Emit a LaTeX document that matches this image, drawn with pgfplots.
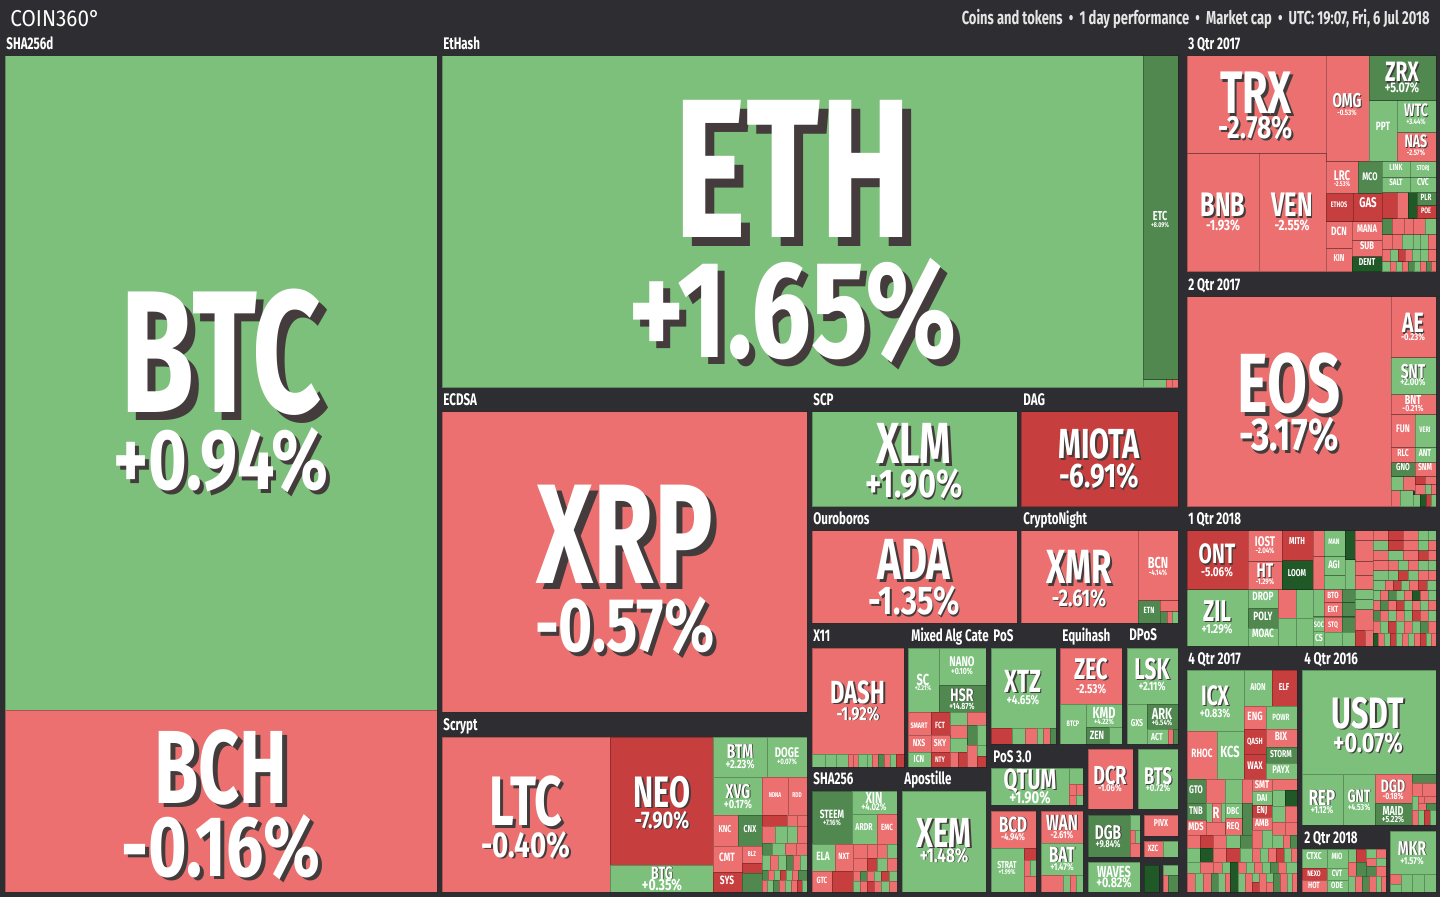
\documentclass[border=0pt]{standalone}
\usepackage{fontspec}
\usepackage{pgfplots}
\pgfplotsset{compat=1.18}
\newfontfamily\cf[FakeStretch=0.69]{Fira Sans}
\newfontfamily\pf[FakeStretch=0.77]{Fira Sans}
\newfontfamily\hf[FakeStretch=0.9]{Fira Sans}
\definecolor{bg}{RGB}{46,46,50}
\definecolor{cG}{RGB}{124,192,124}
\definecolor{cR}{RGB}{236,112,112}
\definecolor{cDR}{RGB}{198,62,62}
\definecolor{cDG}{RGB}{80,136,80}
\definecolor{cVG}{RGB}{32,88,40}
\definecolor{shd}{RGB}{68,60,60}
\newcommand{\R}[5]{\addplot[mark=none,fill=c#5,draw=black,draw opacity=0.25,line width=0.5pt] coordinates {(#1,#2)(#3,#2)(#3,#4)(#1,#4)(#1,#2)};}
% name label (shadow only when large)
\newcommand{\T}[4]{%
\ifdim #3pt<9pt\relax\else
\node[anchor=base,inner sep=0pt,text=shd,xshift={#3*0.045pt},yshift={-#3*0.045pt},font=\cf\bfseries\fontsize{#3}{#3}\selectfont] at (axis cs:#1,#2) {#4};
\fi
\node[anchor=base,inner sep=0pt,text=white,font=\cf\bfseries\fontsize{#3}{#3}\selectfont] at (axis cs:#1,#2) {#4};}
% percentage label
\newcommand{\PC}[4]{%
\ifdim #3pt<9pt\relax\else
\node[anchor=base,inner sep=0pt,text=shd,xshift={#3*0.045pt},yshift={-#3*0.045pt},font=\pf\bfseries\fontsize{#3}{#3}\selectfont] at (axis cs:#1,#2) {#4};
\fi
\node[anchor=base,inner sep=0pt,text=white,font=\pf\bfseries\fontsize{#3}{#3}\selectfont] at (axis cs:#1,#2) {#4};}
\newcommand{\GL}[3]{\node[anchor=base west,inner sep=0pt,text=white,font=\cf\bfseries\fontsize{8.4}{8.4}\selectfont] at (axis cs:#1,#2) {#3};}
\begin{document}
\begin{tikzpicture}
\begin{axis}[width=720pt,height=448.5pt,scale only axis,xmin=0,xmax=1440,ymin=0,ymax=897,y dir=reverse,hide axis,clip=false]
\addplot[mark=none,fill=bg,draw=none] coordinates {(0,0)(1440,0)(1440,897)(0,897)(0,0)};
% SHA256d
\R{5}{56}{437}{710}{G}
\R{5}{710}{437}{892}{R}
% EtHash
\R{442}{56}{1143}{388}{G}
\R{1143}{56}{1178}{380}{DG}
\R{1143}{380}{1166}{388}{G}\R{1166}{380}{1172}{388}{R}\R{1172}{380}{1178}{388}{R}
% ECDSA
\R{442}{412}{807}{712}{R}
% Scrypt
\R{442}{737}{610}{892}{R}
\R{610}{737}{713}{865}{DR}
\R{610}{865}{713}{892}{G}
\R{713}{737}{767}{777}{G}\R{767}{737}{807}{777}{G}
\R{713}{777}{762}{815}{G}\R{762}{777}{788}{815}{R}\R{788}{777}{807}{815}{R}
\R{713}{815}{738}{846}{R}\R{738}{815}{762}{846}{DG}
\R{713}{846}{742}{872}{R}\R{742}{846}{762}{863}{R}\R{742}{863}{762}{873}{DR}
\R{713}{872}{742}{892}{DR}\R{742}{873}{762}{892}{DG}
\R{762}{815}{787}{826}{DR}\R{787}{815}{797}{826}{R}\R{797}{815}{807}{826}{R}
\R{762}{826}{775}{843}{R}\R{775}{826}{787}{843}{G}\R{787}{826}{797}{843}{G}\R{797}{826}{807}{843}{R}
\R{762}{843}{772}{855}{DG}\R{772}{843}{785}{855}{G}\R{785}{843}{796}{855}{R}\R{796}{843}{807}{855}{R}
\R{762}{855}{770}{870}{G}\R{770}{855}{778}{870}{R}\R{778}{855}{786}{870}{G}\R{786}{855}{793}{870}{DG}\R{793}{855}{800}{870}{R}\R{800}{855}{807}{870}{G}
\R{762}{870}{768}{880}{DG}\R{768}{870}{774}{880}{R}\R{774}{870}{780}{880}{G}\R{780}{870}{786}{880}{DR}\R{786}{870}{792}{880}{G}\R{792}{870}{798}{880}{R}\R{798}{870}{807}{880}{DG}
\R{762}{880}{767}{892}{R}\R{767}{880}{773}{892}{G}\R{773}{880}{779}{892}{DG}\R{779}{880}{785}{892}{R}\R{785}{880}{791}{892}{G}\R{791}{880}{797}{892}{R}\R{797}{880}{802}{892}{DR}\R{802}{880}{807}{892}{G}
% SCP, DAG, Ouroboros, CryptoNight
\R{812}{412}{1017}{507}{G}
\R{1021}{412}{1178}{507}{DR}
\R{812}{531}{1017}{623}{R}
\R{1021}{531}{1138}{623}{R}
\R{1138}{531}{1178}{601}{R}
\R{1138}{601}{1160}{623}{DG}
\R{1160}{601}{1178}{612}{R}\R{1160}{612}{1167}{623}{DG}\R{1167}{612}{1172}{623}{R}\R{1172}{612}{1178}{623}{G}
% X11
\R{812}{648}{904}{754}{R}
\R{812}{754}{825}{767}{G}\R{825}{754}{836}{767}{G}\R{836}{754}{848}{767}{G}\R{848}{754}{853}{767}{R}\R{853}{754}{858}{767}{R}\R{858}{754}{867}{767}{G}\R{867}{754}{872}{767}{G}\R{872}{754}{878}{767}{R}\R{878}{754}{884}{767}{DG}\R{884}{754}{890}{767}{R}\R{890}{754}{896}{767}{G}\R{896}{754}{904}{767}{DR}
% Mixed Alg
\R{908}{648}{939}{712}{G}
\R{939}{648}{986}{685}{G}
\R{939}{685}{986}{712}{DG}
\R{908}{712}{931}{735}{R}\R{931}{712}{950}{735}{DR}\R{950}{712}{967}{725}{G}\R{967}{712}{986}{725}{R}
\R{950}{725}{967}{738}{R}\R{967}{725}{977}{745}{DG}\R{977}{725}{986}{745}{G}
\R{908}{735}{931}{752}{R}\R{931}{735}{950}{752}{R}\R{950}{738}{967}{752}{G}
\R{908}{752}{931}{767}{G}\R{931}{752}{950}{767}{DR}\R{950}{752}{958}{767}{R}\R{958}{752}{967}{767}{DR}
\R{967}{745}{977}{767}{R}\R{977}{745}{986}{756}{G}\R{977}{756}{986}{767}{DR}
% PoS
\R{991}{648}{1056}{728}{G}
\R{991}{728}{1012}{744}{DR}\R{1012}{728}{1025}{744}{G}\R{1025}{728}{1037}{744}{R}\R{1037}{728}{1043}{744}{G}\R{1043}{728}{1050}{744}{R}\R{1050}{728}{1056}{744}{DG}
% Equihash
\R{1060}{648}{1122}{704}{R}
\R{1060}{704}{1086}{744}{G}
\R{1086}{704}{1122}{727}{G}
\R{1086}{727}{1109}{744}{DG}\R{1109}{727}{1122}{744}{G}
% DPoS
\R{1127}{648}{1178}{704}{G}
\R{1127}{704}{1147}{744}{G}
\R{1147}{704}{1178}{729}{DG}
\R{1147}{729}{1168}{744}{G}\R{1168}{729}{1173}{744}{R}\R{1173}{729}{1178}{744}{DG}
% PoS 3.0
\R{991}{768}{1069}{805}{G}
\R{1069}{768}{1083}{784}{G}\R{1069}{784}{1076}{795}{R}\R{1076}{784}{1083}{795}{R}\R{1069}{795}{1076}{805}{R}\R{1076}{795}{1083}{805}{G}
\R{1088}{749}{1133}{809}{R}
\R{1138}{749}{1178}{809}{G}
\R{991}{811}{1036}{848}{R}
\R{991}{848}{1024}{892}{G}
\R{1024}{848}{1036}{860}{DR}\R{1024}{860}{1030}{876}{R}\R{1030}{860}{1036}{876}{G}\R{1024}{876}{1036}{892}{R}
\R{1041}{811}{1083}{843}{R}
\R{1041}{843}{1083}{875}{G}
\R{1041}{875}{1063}{892}{R}\R{1063}{875}{1070}{892}{G}\R{1070}{875}{1076}{892}{R}\R{1076}{875}{1083}{892}{G}
\R{1088}{815}{1130}{857}{DG}
\R{1130}{815}{1140}{830}{G}\R{1130}{830}{1135}{843}{R}\R{1135}{830}{1140}{843}{G}\R{1130}{843}{1140}{857}{R}
\R{1088}{862}{1140}{892}{G}
\R{1144}{815}{1178}{836}{R}
\R{1144}{841}{1163}{857}{R}\R{1163}{841}{1178}{857}{G}
\R{1144}{865}{1159}{892}{VG}\R{1163}{865}{1178}{875}{G}\R{1163}{875}{1168}{892}{R}\R{1168}{875}{1178}{892}{DG}
% SHA256
\R{812}{791}{852}{844}{DG}
\R{852}{791}{897}{814}{G}
\R{852}{814}{877}{844}{G}\R{877}{814}{897}{844}{R}
\R{812}{844}{835}{871}{G}\R{835}{844}{853}{871}{R}
\R{812}{871}{832}{892}{R}\R{832}{871}{853}{892}{DR}
\R{853}{844}{867}{858}{R}\R{867}{844}{877}{858}{R}\R{877}{844}{887}{858}{R}\R{887}{844}{897}{858}{G}
\R{853}{858}{867}{871}{R}\R{867}{858}{877}{871}{DR}\R{877}{858}{887}{871}{G}\R{887}{858}{897}{871}{R}
\R{853}{871}{860}{881}{R}\R{860}{871}{867}{881}{DG}\R{867}{871}{874}{881}{R}\R{874}{871}{881}{881}{G}\R{881}{871}{889}{881}{DR}\R{889}{871}{897}{881}{G}
\R{853}{881}{860}{892}{G}\R{860}{881}{867}{892}{R}\R{867}{881}{874}{892}{DR}\R{874}{881}{881}{892}{R}\R{881}{881}{889}{892}{G}\R{889}{881}{897}{892}{R}
% Apostille
\R{902}{791}{986}{892}{G}
% 3 Qtr 2017
\R{1187}{56}{1326}{154}{R}
\R{1326}{56}{1369}{162}{R}
\R{1369}{56}{1436}{101}{DG}
\R{1369}{101}{1397}{162}{G}
\R{1397}{101}{1436}{133}{G}
\R{1397}{133}{1436}{162}{R}
\R{1187}{154}{1259}{272}{R}
\R{1259}{154}{1326}{272}{R}
\R{1326}{162}{1358}{194}{R}\R{1358}{162}{1382}{194}{DG}
\R{1382}{162}{1410}{178}{G}\R{1410}{162}{1436}{178}{G}\R{1382}{178}{1410}{193}{G}\R{1410}{178}{1436}{193}{G}
\R{1326}{194}{1353}{222}{DR}\R{1353}{194}{1382}{222}{DR}
\R{1326}{222}{1352}{249}{R}\R{1326}{249}{1352}{272}{R}
\R{1352}{222}{1382}{241}{R}\R{1352}{241}{1382}{257}{R}\R{1352}{257}{1382}{272}{VG}
\R{1382}{193}{1397}{219}{DR}\R{1397}{193}{1408}{219}{R}\R{1408}{193}{1417}{219}{VG}\R{1417}{193}{1436}{206}{DG}\R{1417}{206}{1436}{219}{DR}
\R{1382}{219}{1392}{235}{DG}\R{1392}{219}{1404}{235}{R}\R{1404}{219}{1413}{235}{R}\R{1413}{219}{1425}{235}{R}\R{1425}{219}{1436}{235}{G}
\R{1382}{235}{1392}{250}{R}\R{1392}{235}{1402}{250}{R}\R{1402}{235}{1413}{250}{G}\R{1413}{235}{1420}{250}{G}\R{1420}{235}{1428}{250}{G}\R{1428}{235}{1436}{250}{R}
\R{1382}{250}{1390}{262}{R}\R{1390}{250}{1398}{262}{G}\R{1398}{250}{1405}{262}{DR}\R{1405}{250}{1412}{262}{R}\R{1412}{250}{1420}{262}{G}\R{1420}{250}{1428}{262}{G}\R{1428}{250}{1436}{262}{R}
\R{1382}{262}{1390}{272}{G}\R{1390}{262}{1396}{272}{R}\R{1396}{262}{1402}{272}{G}\R{1402}{262}{1408}{272}{R}\R{1408}{262}{1414}{272}{DG}\R{1414}{262}{1420}{272}{G}\R{1420}{262}{1426}{272}{R}\R{1426}{262}{1431}{272}{DG}\R{1431}{262}{1436}{272}{R}
% 2 Qtr 2017
\R{1187}{297}{1391}{507}{R}
\R{1391}{297}{1436}{358}{R}
\R{1391}{358}{1436}{395}{G}
\R{1391}{395}{1436}{415}{R}
\R{1391}{415}{1415}{448}{R}\R{1415}{415}{1436}{448}{G}
\R{1391}{448}{1415}{463}{R}\R{1415}{448}{1436}{463}{G}
\R{1391}{463}{1415}{477}{DG}\R{1415}{463}{1436}{477}{R}
\R{1391}{477}{1403}{491}{G}\R{1403}{477}{1415}{491}{R}\R{1415}{477}{1425}{485}{DR}\R{1425}{477}{1436}{485}{R}\R{1415}{485}{1425}{495}{R}\R{1425}{485}{1431}{495}{G}\R{1431}{485}{1436}{495}{R}
\R{1391}{491}{1400}{507}{R}\R{1400}{491}{1413}{507}{G}\R{1413}{495}{1420}{507}{G}\R{1420}{495}{1426}{507}{VG}\R{1426}{495}{1431}{507}{DR}\R{1431}{495}{1436}{507}{G}
% 1 Qtr 2018
\R{1187}{531}{1248}{590}{DR}
\R{1187}{590}{1248}{646}{G}
\R{1248}{531}{1282}{562}{R}\R{1248}{562}{1282}{590}{R}
\R{1282}{531}{1313}{561}{DR}\R{1282}{561}{1313}{590}{VG}
\R{1248}{590}{1278}{609}{G}\R{1248}{609}{1278}{628}{DG}\R{1248}{628}{1278}{646}{G}
\R{1278}{590}{1296}{618}{R}\R{1296}{590}{1313}{618}{G}\R{1278}{618}{1296}{646}{G}\R{1296}{618}{1313}{646}{G}
\R{1313}{531}{1324}{557}{R}\R{1324}{531}{1345}{557}{G}\R{1345}{531}{1355}{560}{VG}\R{1355}{531}{1373}{541}{R}\R{1355}{541}{1373}{562}{R}
\R{1313}{557}{1324}{590}{R}\R{1324}{557}{1345}{576}{G}\R{1324}{576}{1345}{590}{G}\R{1345}{560}{1355}{590}{G}\R{1355}{562}{1373}{576}{R}\R{1355}{576}{1373}{590}{R}
\R{1313}{590}{1324}{617}{G}\R{1324}{590}{1342}{603}{R}\R{1324}{603}{1342}{617}{R}\R{1342}{590}{1355}{603}{DG}\R{1342}{603}{1355}{617}{DG}\R{1355}{590}{1373}{600}{G}\R{1355}{600}{1373}{610}{G}
\R{1313}{617}{1324}{631}{G}\R{1313}{631}{1324}{646}{G}\R{1324}{617}{1342}{632}{R}\R{1324}{632}{1342}{646}{G}\R{1342}{617}{1355}{632}{DG}\R{1342}{632}{1355}{646}{G}\R{1355}{610}{1373}{630}{R}\R{1355}{630}{1365}{646}{DR}\R{1365}{630}{1373}{646}{R}
\R{1373}{531}{1388}{541}{R}\R{1388}{531}{1403}{541}{DR}\R{1403}{531}{1418}{541}{R}\R{1418}{531}{1428}{541}{G}\R{1428}{531}{1436}{541}{G}
\R{1373}{541}{1388}{551}{G}\R{1388}{541}{1403}{551}{DR}\R{1403}{541}{1418}{551}{R}\R{1418}{541}{1428}{551}{G}\R{1428}{541}{1436}{551}{R}
\R{1373}{551}{1388}{561}{R}\R{1388}{551}{1403}{561}{G}\R{1403}{551}{1418}{561}{R}\R{1418}{551}{1428}{561}{DR}\R{1428}{551}{1436}{561}{R}
\R{1373}{561}{1388}{571}{R}\R{1388}{561}{1398}{571}{R}\R{1398}{561}{1408}{571}{G}\R{1408}{561}{1418}{571}{R}\R{1418}{561}{1428}{571}{G}\R{1428}{561}{1436}{571}{G}
\R{1373}{571}{1388}{581}{G}\R{1388}{571}{1398}{581}{G}\R{1398}{571}{1408}{581}{DR}\R{1408}{571}{1418}{581}{G}\R{1418}{571}{1428}{581}{R}\R{1428}{571}{1436}{581}{R}
\R{1373}{581}{1385}{591}{G}\R{1385}{581}{1393}{591}{R}\R{1393}{581}{1401}{591}{DR}\R{1401}{581}{1409}{591}{G}\R{1409}{581}{1418}{591}{R}\R{1418}{581}{1427}{591}{DR}\R{1427}{581}{1436}{591}{G}
\R{1373}{591}{1380}{601}{G}\R{1380}{591}{1388}{601}{R}\R{1388}{591}{1396}{601}{DG}\R{1396}{591}{1404}{601}{G}\R{1404}{591}{1412}{601}{R}\R{1412}{591}{1420}{601}{VG}\R{1420}{591}{1428}{601}{R}\R{1428}{591}{1436}{601}{G}
\R{1373}{601}{1380}{611}{R}\R{1380}{601}{1388}{611}{DG}\R{1388}{601}{1396}{611}{R}\R{1396}{601}{1404}{611}{DR}\R{1404}{601}{1412}{611}{G}\R{1412}{601}{1420}{611}{R}\R{1420}{601}{1428}{611}{G}\R{1428}{601}{1436}{611}{R}
\R{1373}{611}{1380}{621}{DG}\R{1380}{611}{1388}{621}{R}\R{1388}{611}{1396}{621}{G}\R{1396}{611}{1404}{621}{R}\R{1404}{611}{1412}{621}{G}\R{1412}{611}{1420}{621}{DR}\R{1420}{611}{1428}{621}{R}\R{1428}{611}{1436}{621}{G}
\R{1373}{621}{1380}{633}{R}\R{1380}{621}{1388}{633}{G}\R{1388}{621}{1396}{633}{DR}\R{1396}{621}{1404}{633}{G}\R{1404}{621}{1412}{633}{R}\R{1412}{621}{1420}{633}{G}\R{1420}{621}{1428}{633}{DG}\R{1428}{621}{1436}{633}{R}
\R{1373}{633}{1378}{646}{VG}\R{1378}{633}{1384}{646}{R}\R{1384}{633}{1390}{646}{G}\R{1390}{633}{1396}{646}{DR}\R{1396}{633}{1402}{646}{G}\R{1402}{633}{1408}{646}{R}\R{1408}{633}{1414}{646}{G}\R{1414}{633}{1420}{646}{R}\R{1420}{633}{1426}{646}{DR}\R{1426}{633}{1431}{646}{G}\R{1431}{633}{1436}{646}{R}
% 4 Qtr 2017
\R{1187}{670}{1244}{731}{G}
\R{1244}{670}{1272}{706}{G}\R{1272}{670}{1297}{706}{DR}
\R{1244}{706}{1266}{729}{R}\R{1266}{706}{1297}{729}{G}
\R{1187}{731}{1217}{779}{R}\R{1217}{731}{1244}{779}{G}
\R{1244}{729}{1266}{754}{DR}\R{1244}{754}{1266}{779}{DR}
\R{1266}{729}{1297}{747}{R}\R{1266}{747}{1297}{763}{DG}\R{1266}{763}{1297}{779}{G}
\R{1187}{779}{1206}{803}{DG}\R{1206}{779}{1225}{803}{R}\R{1225}{779}{1242}{803}{G}\R{1242}{779}{1252}{803}{R}
\R{1252}{779}{1272}{791}{R}\R{1272}{779}{1297}{790}{R}\R{1272}{790}{1285}{806}{G}\R{1285}{790}{1297}{806}{VG}
\R{1252}{791}{1272}{805}{G}\R{1252}{805}{1272}{817}{DR}\R{1252}{817}{1272}{830}{R}\R{1272}{806}{1285}{822}{G}\R{1285}{806}{1297}{822}{R}
\R{1242}{803}{1252}{835}{DG}
\R{1187}{803}{1206}{820}{DG}\R{1206}{803}{1212}{822}{G}\R{1212}{803}{1221}{825}{R}\R{1221}{803}{1225}{822}{G}\R{1225}{803}{1242}{818}{G}
\R{1187}{820}{1206}{835}{R}\R{1225}{818}{1242}{835}{R}\R{1206}{822}{1225}{835}{R}
\R{1187}{835}{1200}{848}{R}\R{1200}{835}{1213}{848}{DR}\R{1213}{835}{1226}{848}{R}\R{1226}{835}{1240}{848}{G}\R{1240}{835}{1252}{848}{DG}\R{1252}{830}{1262}{848}{R}\R{1262}{830}{1272}{848}{G}\R{1272}{822}{1285}{835}{R}\R{1285}{822}{1297}{835}{R}\R{1272}{835}{1283}{848}{G}\R{1283}{835}{1290}{848}{R}\R{1290}{835}{1297}{848}{DG}
\R{1187}{848}{1200}{862}{G}\R{1200}{848}{1213}{862}{VG}\R{1213}{848}{1226}{862}{R}\R{1226}{848}{1240}{862}{DR}\R{1240}{848}{1252}{862}{G}\R{1252}{848}{1260}{862}{R}\R{1260}{848}{1268}{862}{G}\R{1268}{848}{1276}{862}{R}\R{1276}{848}{1284}{862}{DR}\R{1284}{848}{1291}{862}{G}\R{1291}{848}{1297}{862}{R}
\R{1187}{862}{1200}{873}{G}\R{1200}{862}{1213}{873}{R}\R{1213}{862}{1222}{873}{R}\R{1222}{862}{1230}{873}{G}\R{1230}{862}{1238}{892}{VG}\R{1238}{862}{1246}{873}{R}\R{1246}{862}{1254}{873}{G}\R{1254}{862}{1262}{873}{R}\R{1262}{862}{1270}{873}{G}\R{1270}{862}{1278}{873}{DG}\R{1278}{862}{1286}{873}{R}\R{1286}{862}{1297}{873}{G}
\R{1187}{873}{1195}{892}{R}\R{1195}{873}{1203}{892}{G}\R{1203}{873}{1211}{892}{R}\R{1211}{873}{1218}{892}{DG}\R{1218}{873}{1225}{892}{G}\R{1225}{873}{1230}{892}{R}\R{1238}{873}{1245}{892}{G}\R{1245}{873}{1252}{892}{R}\R{1252}{873}{1259}{882}{G}\R{1252}{882}{1259}{892}{DR}\R{1259}{873}{1266}{892}{R}\R{1266}{873}{1273}{882}{G}\R{1266}{882}{1273}{892}{R}\R{1273}{873}{1280}{892}{DG}\R{1280}{873}{1287}{892}{R}\R{1287}{873}{1292}{892}{G}\R{1292}{873}{1297}{892}{R}
% 4 Qtr 2016
\R{1302}{670}{1436}{774}{G}
\R{1302}{774}{1343}{825}{G}\R{1343}{774}{1375}{825}{G}
\R{1375}{774}{1412}{803}{R}\R{1375}{803}{1412}{825}{DG}
\R{1412}{774}{1436}{783}{DG}\R{1412}{783}{1422}{796}{R}\R{1422}{783}{1436}{796}{R}
\R{1412}{796}{1418}{810}{G}\R{1418}{796}{1424}{803}{R}\R{1424}{796}{1436}{803}{R}\R{1418}{803}{1426}{810}{R}\R{1426}{803}{1436}{810}{DG}
\R{1412}{810}{1418}{825}{R}\R{1418}{810}{1424}{825}{G}\R{1424}{810}{1430}{825}{DR}\R{1430}{810}{1436}{825}{G}
% 2 Qtr 2018
\R{1302}{849}{1327}{868}{G}\R{1327}{849}{1348}{868}{G}
\R{1302}{868}{1327}{880}{DR}\R{1327}{868}{1348}{880}{G}
\R{1302}{880}{1327}{892}{R}\R{1327}{880}{1348}{892}{G}
\R{1348}{849}{1356}{862}{G}\R{1356}{849}{1366}{862}{DR}\R{1366}{849}{1376}{858}{G}\R{1376}{849}{1386}{858}{R}\R{1366}{858}{1376}{866}{R}\R{1376}{858}{1386}{866}{G}
\R{1348}{862}{1356}{876}{R}\R{1356}{862}{1366}{876}{DG}\R{1366}{866}{1376}{876}{DG}\R{1376}{866}{1386}{876}{R}
\R{1348}{876}{1355}{892}{G}\R{1355}{876}{1362}{892}{R}\R{1362}{876}{1369}{892}{DG}\R{1369}{876}{1376}{892}{R}\R{1376}{876}{1381}{892}{G}\R{1381}{876}{1386}{892}{R}
\R{1390}{831}{1436}{874}{G}
\R{1390}{874}{1401}{884}{R}\R{1390}{884}{1401}{892}{G}\R{1401}{874}{1412}{892}{G}\R{1412}{874}{1424}{892}{G}\R{1424}{874}{1436}{892}{G}
% ---------- header ----------
\node[anchor=base west,inner sep=0pt,text=white,font=\hf\fontsize{11.5}{11.5}\selectfont] at (axis cs:10,27) {COIN360°};
\node[anchor=base east,inner sep=0pt,text=white!90!black,font=\cf\bfseries\fontsize{9.4}{9.4}\selectfont] at (axis cs:1430,25) {Coins and tokens \,•\, 1 day performance \,•\, Market cap \,•\, UTC: 19:07, Fri, 6 Jul 2018};
% ---------- group labels ----------
\GL{6}{50}{SHA256d}\GL{443}{50}{EtHash}\GL{1188}{50}{3 Qtr 2017}
\GL{443}{406}{ECDSA}\GL{813}{406}{SCP}\GL{1023}{406}{DAG}\GL{1188}{291}{2 Qtr 2017}
\GL{443}{730}{Scrypt}\GL{813}{525}{Ouroboros}\GL{1023}{525}{CryptoNight}\GL{1188}{525}{1 Qtr 2018}
\GL{813}{641}{X11}\GL{911}{641}{Mixed Alg Cate}\GL{993}{641}{PoS}\GL{1062}{641}{Equihash}\GL{1129}{640}{DPoS}
\GL{1188}{664}{4 Qtr 2017}\GL{1304}{664}{4 Qtr 2016}\GL{993}{762}{PoS 3.0}\GL{813}{784}{SHA256}\GL{904}{784}{Apostille}\GL{1304}{843}{2 Qtr 2018}
% ---------- cell labels ----------
\T{221}{413}{87}{BTC}\PC{221}{490}{43}{+0.94\%}
\T{221}{803}{52}{BCH}\PC{221}{876}{43}{-0.16\%}
\T{793}{238}{99}{ETH}\PC{793}{358}{69}{+1.65\%}
\T{1160}{221}{6.5}{ETC}\PC{1160}{228}{3.5}{+8.09\%}
\T{625}{583}{71}{XRP}\PC{625}{652}{38}{-0.57\%}
\T{526}{825}{35}{LTC}\PC{526}{857}{18}{-0.40\%}
\T{662}{807}{22}{NEO}\PC{662}{828}{12}{-7.90\%}
\T{662}{879}{9}{BTG}\PC{662}{890}{8}{+0.35\%}
\T{740}{758}{10}{BTM}\PC{740}{768}{6}{+2.23\%}
\T{787}{757}{7}{DOGE}\PC{787}{764}{4}{+0.07\%}
\T{738}{798}{10}{XVG}\PC{738}{808}{6}{+0.17\%}
\T{775}{797}{3.5}{NDNA}\T{797}{797}{3.5}{RDD}
\T{725}{832}{5}{KNC}\T{750}{832}{5}{CNX}\T{727}{861}{6}{CMT}\T{752}{856}{3.5}{BLZ}\T{727}{884}{6}{SYS}
\T{914}{464}{29}{XLM}\PC{914}{498}{20}{+1.90\%}
\T{1099}{459}{21}{MIOTA}\PC{1099}{488}{17}{-6.91\%}
\T{914}{580}{29}{ADA}\PC{914}{615}{20}{-1.35\%}
\T{1079}{584}{24}{XMR}\PC{1079}{606}{12}{-2.61\%}
\T{1158}{568}{8}{BCN}\PC{1158}{575}{4}{-4.14\%}
\T{1149}{614}{4.5}{ETN}
\T{858}{703}{16}{DASH}\PC{858}{720}{9.5}{-1.92\%}
\T{923}{685}{8}{SC}\PC{923}{690}{3.5}{+2.21\%}
\T{962}{667}{7}{NANO}\PC{962}{675}{4.5}{+0.10\%}
\T{962}{701}{9}{HSR}\PC{962}{709}{4.5}{+14.87\%}
\T{919}{728}{4}{SMART}\T{940}{728}{4.5}{FCT}\T{919}{746}{5}{NXS}\T{940}{746}{5}{SKY}\T{919}{762}{5}{ICN}\T{940}{762}{4}{NTY}
\T{1023}{692}{16}{XTZ}\PC{1023}{704}{6.5}{+4.65\%}
\T{1091}{679}{15}{ZEC}\PC{1091}{693}{6.5}{-2.53\%}
\T{1104}{718}{8}{KMD}\PC{1104}{724}{4}{+4.22\%}
\T{1097}{739}{6}{ZEN}\T{1073}{726}{4}{BTCP}
\T{1152}{679}{15}{LSK}\PC{1152}{690}{6}{+2.11\%}
\T{1162}{719}{8}{ARK}\PC{1162}{725}{4}{+6.54\%}
\T{1137}{726}{5}{GXS}\T{1157}{740}{5}{ACT}
\T{1030}{789}{14.5}{QTUM}\PC{1030}{803}{8.5}{+1.90\%}
\T{1110}{784}{13}{DCR}\PC{1110}{791}{5}{-1.06\%}
\T{1158}{784}{12}{BTS}\PC{1158}{791}{5}{+0.72\%}
\T{1013}{832}{11}{BCD}\PC{1013}{840}{5}{-4.94\%}
\T{1007}{868}{5}{STRAT}\PC{1007}{874}{3.5}{+1.99\%}
\T{1062}{830}{11}{WAN}\PC{1062}{838}{5}{-2.61\%}
\T{1062}{862}{11}{BAT}\PC{1062}{870}{5}{+1.47\%}
\T{1108}{839}{10}{DGB}\PC{1108}{847}{5}{+9.84\%}
\T{1114}{877}{8}{WAVES}\PC{1114}{887}{7}{+0.82\%}
\T{1161}{826}{5}{PIVX}\T{1153}{851}{4.5}{XZC}
\T{832}{818}{6}{STEEM}\PC{832}{825}{4}{+7.16\%}
\T{874}{803}{8}{XIN}\PC{874}{810}{5}{+4.02\%}
\T{864}{830}{5}{ARDR}\T{887}{830}{4.5}{EMC}\T{823}{860}{6}{ELA}\T{844}{859}{4.5}{NXT}\T{822}{883}{4.5}{GTC}
\T{944}{847}{21}{XEM}\PC{944}{862}{10}{+1.48\%}
\T{1256}{114}{30}{TRX}\PC{1256}{139}{16}{-2.78\%}
\T{1347}{108}{10}{OMG}\PC{1347}{116}{4}{-0.53\%}
\T{1402}{82}{14}{ZRX}\PC{1402}{93}{7}{+5.07\%}
\T{1383}{131}{6}{PPT}\T{1416}{117}{9}{WTC}\PC{1416}{125}{4}{+3.44\%}
\T{1416}{148}{9}{NAS}\PC{1416}{156}{4}{-2.57\%}
\T{1223}{217}{17}{BNB}\PC{1223}{231}{7.5}{-1.93\%}
\T{1292}{217}{17}{VEN}\PC{1292}{231}{7.5}{-2.55\%}
\T{1342}{181}{7}{LRC}\PC{1342}{187}{3.5}{-2.53\%}\T{1370}{181}{5.5}{MCO}
\T{1396}{171}{4.5}{LINK}\T{1423}{171}{3.5}{STORJ}\T{1396}{186}{4.5}{SALT}\T{1423}{186}{5}{CVC}
\T{1339}{208}{4}{ETHOS}\T{1368}{208}{7}{GAS}\T{1339}{236}{6}{DCN}\T{1339}{262}{5}{KIN}
\T{1367}{233}{5.5}{MANA}\T{1367}{250}{5.5}{SUB}\T{1367}{266}{5}{DENT}\T{1426}{201}{4.5}{PLR}\T{1426}{214}{4}{POE}
\T{1289}{413}{42}{EOS}\PC{1289}{451}{23}{-3.17\%}
\T{1413}{333}{14}{AE}\PC{1413}{341}{5}{-0.23\%}
\T{1413}{379}{10}{SNT}\PC{1413}{386}{5}{+2.00\%}
\T{1413}{405}{6.5}{BNT}\PC{1413}{412}{4.5}{-0.21\%}
\T{1403}{433}{5.5}{FUN}\T{1425}{433}{4}{VERI}\T{1403}{457}{5}{RLC}\T{1425}{457}{5}{ANT}\T{1403}{471}{5}{GNO}\T{1425}{471}{5}{SNM}
\T{1217}{564}{14}{ONT}\PC{1217}{577}{6.5}{-5.06\%}
\T{1217}{621}{15}{ZIL}\PC{1217}{633}{6.5}{+1.29\%}
\T{1265}{547}{7}{IOST}\PC{1265}{553}{4}{-2.04\%}
\T{1265}{578}{10}{HT}\PC{1265}{585}{4}{-1.29\%}
\T{1297}{545}{5}{MITH}\T{1297}{577}{5}{LOOM}
\T{1263}{601}{6}{DROP}\T{1263}{620}{6}{POLY}\T{1263}{638}{6}{MOAC}
\T{1334}{545}{4}{MAN}\T{1334}{568}{5.5}{AGI}\T{1333}{599}{4.5}{BTO}\T{1333}{612}{4.5}{EKT}\T{1319}{627}{4}{SOC}\T{1319}{641}{5}{CS}\T{1333}{627}{4}{STQ}
\T{1215}{705}{14}{ICX}\PC{1215}{717}{6}{+0.83\%}
\T{1258}{690}{5}{AION}\T{1284}{690}{5}{ELF}\T{1255}{720}{6}{ENG}\T{1281}{720}{4.5}{POWR}
\T{1202}{757}{6}{RHOC}\T{1230}{757}{8}{KCS}\T{1255}{744}{4.5}{QASH}\T{1255}{769}{5.5}{WAX}
\T{1281}{740}{6}{BIX}\T{1281}{757}{5}{STORM}\T{1281}{773}{5.5}{PAYX}
\T{1196}{793}{5.5}{GTO}\T{1196}{814}{5.5}{TNB}\T{1196}{830}{5.5}{MDS}\T{1216}{818}{8}{R}\T{1233}{814}{5}{DBC}\T{1233}{829}{5}{REQ}
\T{1262}{788}{5.5}{SMT}\T{1262}{801}{5}{DAI}\T{1262}{813}{5}{ENJ}\T{1262}{826}{5}{AMB}
\T{1368}{728}{22}{USDT}\PC{1368}{752}{14}{+0.07\%}
\T{1322}{805}{11}{REP}\PC{1322}{813}{5}{+1.12\%}
\T{1359}{802}{9}{GNT}\PC{1359}{810}{4.5}{+4.53\%}
\T{1393}{792}{9}{DGD}\PC{1393}{799}{4.5}{-0.18\%}
\T{1393}{815}{6.5}{MAID}\PC{1393}{822}{4.5}{+5.22\%}
\T{1412}{855}{10}{MKR}\PC{1412}{864}{5}{+1.57\%}
\T{1314}{859}{5}{CTXC}\T{1337}{859}{4.5}{MIO}\T{1314}{876}{4}{NEXO}\T{1337}{876}{4.5}{CVT}\T{1314}{888}{4.5}{HOT}\T{1337}{888}{4.5}{ODE}
\end{axis}
\end{tikzpicture}
\end{document}
